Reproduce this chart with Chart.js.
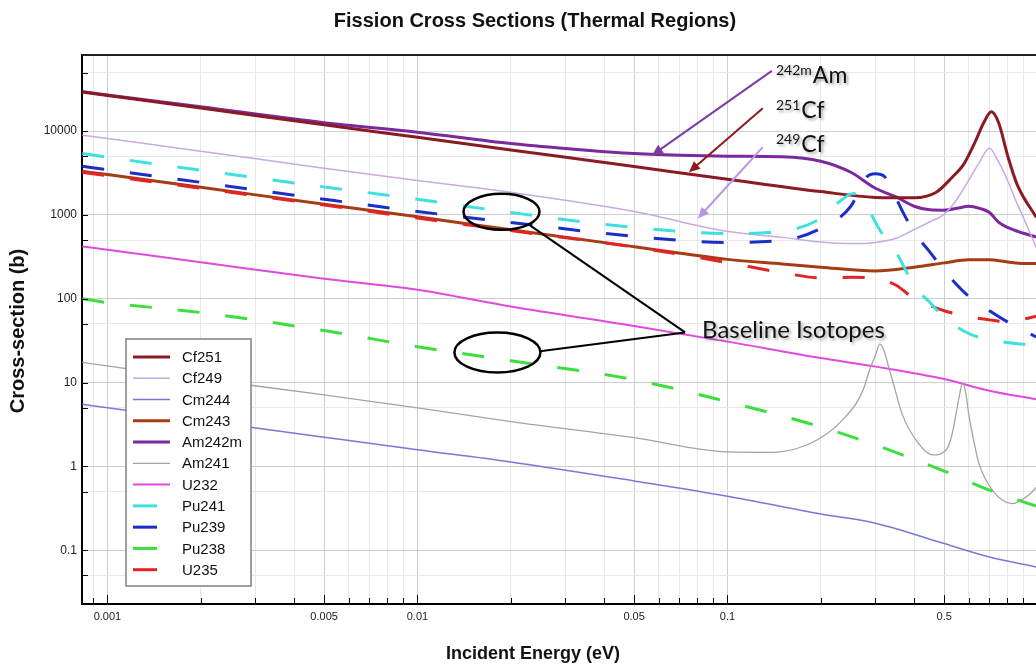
<!DOCTYPE html>
<html>
<head>
<meta charset="utf-8">
<title>Fission Cross Sections (Thermal Regions)</title>
<script src="https://cdn.jsdelivr.net/npm/chart.js@4.4.1/dist/chart.umd.min.js"></script>
<style>
  html, body { margin: 0; padding: 0; background: #fff; }
  #wrap { width: 1036px; height: 667px; }
</style>
</head>
<body>
<div id="wrap"><canvas id="chart" width="1036" height="667"></canvas></div>
<script>
(function(){
  const titleText = 'Fission Cross Sections (Thermal Regions)';
  const xTitle = 'Incident Energy (eV)';
  const yTitle = 'Cross-section (b)';

  const xTickLabels = ['0.001','0.005','0.01','0.05','0.1','0.5'];
  const yTickLabels = ['0.1','1','10','100','1000','10000'];

  // energy (eV) / cross-section (b) pairs
  const cf251E = [0.00083, 0.001, 0.002, 0.005, 0.01, 0.02, 0.05, 0.1, 0.2, 0.3, 0.4, 0.47, 0.53, 0.58, 0.63, 0.67, 0.71, 0.75, 0.8, 0.86, 0.99];
  const cf251  = [29300, 26700, 18900, 11900, 8440, 5970, 3780, 2670, 1900, 1620, 1600, 1850, 2800, 4100, 7500, 12500, 17000, 12500, 5200, 2300, 940];

  const cf249E = [0.00083, 0.001, 0.002, 0.005, 0.01, 0.02, 0.05, 0.1, 0.15, 0.2, 0.25, 0.3, 0.35, 0.4, 0.45, 0.5, 0.55, 0.6, 0.65, 0.7, 0.75, 0.8, 0.85, 0.9, 0.99];
  const cf249  = [8960, 8160, 5770, 3610, 2580, 1860, 1100, 637, 540, 475, 455, 470, 527, 670, 830, 1020, 1540, 2590, 4260, 6260, 4260, 2590, 1500, 935, 412];

  const cm244E = [0.00083, 0.001, 0.002, 0.005, 0.01, 0.02, 0.05, 0.1, 0.2, 0.3, 0.5, 0.7, 0.99];
  const cm244  = [5.5, 5.02, 3.53, 2.23, 1.58, 1.13, 0.67, 0.44, 0.27, 0.21, 0.12, 0.083, 0.063];

  const cm243E = [0.00083, 0.001, 0.002, 0.005, 0.01, 0.02, 0.05, 0.1, 0.15, 0.2, 0.3, 0.4, 0.5, 0.6, 0.7, 0.8, 0.9, 0.99];
  const cm243  = [3320, 3030, 2140, 1340, 950, 665, 418, 295, 260, 238, 215, 238, 268, 292, 292, 275, 263, 263];

  const am242mE = [0.00083, 0.001, 0.002, 0.005, 0.01, 0.02, 0.03, 0.05, 0.1, 0.15, 0.2, 0.25, 0.3, 0.35, 0.4, 0.45, 0.5, 0.55, 0.6, 0.65, 0.7, 0.75, 0.8, 0.9, 0.99];
  const am242m  = [29500, 27000, 19500, 12600, 9700, 7100, 6200, 5400, 5020, 4950, 4380, 3230, 2080, 1640, 1270, 1150, 1140, 1200, 1270, 1200, 1070, 815, 710, 605, 545];

  const am241E = [0.00083, 0.001, 0.002, 0.005, 0.01, 0.02, 0.05, 0.1, 0.14, 0.18, 0.214, 0.24, 0.259, 0.275, 0.288, 0.3, 0.31, 0.32, 0.33, 0.341, 0.366, 0.408, 0.459, 0.508, 0.53, 0.546, 0.562, 0.574, 0.587, 0.6, 0.625, 0.648, 0.718, 0.83, 0.94, 0.99];
  const am241  = [17.4, 15.8, 11.1, 7.15, 5.0, 3.42, 2.2, 1.49, 1.47, 1.8, 2.6, 3.9, 5.5, 8.5, 14.5, 21, 29, 24, 16, 10.5, 4.2, 2.0, 1.37, 1.58, 2.4, 4.2, 7.5, 10, 7.5, 4.2, 1.9, 1.07, 0.51, 0.36, 0.46, 0.56];

  const u232E = [0.00083, 0.001, 0.002, 0.005, 0.01, 0.02, 0.05, 0.1, 0.2, 0.3, 0.5, 0.7, 0.99];
  const u232  = [421, 384, 272, 173, 128, 80.7, 47.4, 30.8, 19.6, 15.5, 11, 8.0, 6.3];

  const pu241E = [0.00083, 0.001, 0.002, 0.005, 0.01, 0.02, 0.05, 0.1, 0.15, 0.2, 0.23, 0.255, 0.275, 0.29, 0.31, 0.35, 0.4, 0.45, 0.5, 0.6, 0.7, 0.99];
  const pu241  = [5410, 4890, 3410, 2160, 1540, 1070, 711, 600, 640, 910, 1450, 1800, 1400, 1040, 660, 360, 144, 90, 60, 38.5, 32.5, 27.5];

  const pu239E = [0.00083, 0.001, 0.002, 0.005, 0.01, 0.02, 0.05, 0.1, 0.15, 0.2, 0.25, 0.28, 0.3, 0.32, 0.34, 0.37, 0.4, 0.45, 0.5, 0.6, 0.7, 0.8, 0.99];
  const pu239  = [3810, 3460, 2450, 1540, 1100, 815, 555, 470, 497, 690, 1270, 2800, 3100, 2900, 1970, 1040, 620, 360, 217, 107, 72, 53, 35];

  const pu238E = [0.00083, 0.001, 0.002, 0.005, 0.01, 0.02, 0.05, 0.1, 0.2, 0.3, 0.5, 0.7, 0.99];
  const pu238  = [100, 90, 68.5, 41.7, 26.8, 18.2, 10.8, 5.9, 2.96, 1.8, 0.88, 0.52, 0.336];

  const u235E = [0.00083, 0.001, 0.002, 0.005, 0.01, 0.02, 0.05, 0.1, 0.15, 0.2, 0.25, 0.3, 0.35, 0.4, 0.45, 0.5, 0.6, 0.7, 0.8, 0.9, 0.99];
  const u235  = [3220, 2940, 2080, 1310, 920, 650, 415, 270, 205, 178, 180, 175, 145, 100, 83, 72, 61, 56, 53, 57, 62];

  // axis ranges
  const xMin = 0.000828, xMax = 0.989;
  const yMin = 0.0228, yMax = 81000;

  // annotation anchors, in data units (eV, b)
  const isoLabels = [
    { sup: '242m', main: 'Am', e: 0.1434, s: 37500 },
    { sup: '251',  main: 'Cf', e: 0.1434, s: 14300 },
    { sup: '249',  main: 'Cf', e: 0.1434, s: 5610 }
  ];
  const isoArrows = [
    { from: [0.139, 52300], to: [0.0571, 5160], color: '#7d3ca3' },
    { from: [0.130, 18800], to: [0.0751, 3240], color: '#8b1a1a' },
    { from: [0.130, 6440],  to: [0.0803, 910],  color: '#b896e6' }
  ];
  const baseRings = [ { e: 0.01867, s: 1089 }, { e: 0.01811, s: 22.9 } ];
  const baseLines = [ [[0.02307, 751], [0.0730, 39.7]], [[0.02485, 23.6], [0.0730, 39.7]] ];
  const baseLabel = { text: 'Baseline Isotopes', e: 0.0828, s: 34.4 };

  const FONT = '"Liberation Sans", Arial, sans-serif';
  const DASH = [22, 26];

  const series = [
    { label: 'Cf251',  e: cf251E,  v: cf251,  color: '#8b1a24', width: 3 },
    { label: 'Cf249',  e: cf249E,  v: cf249,  color: '#c9a9e2', width: 1.5 },
    { label: 'Cm244',  e: cm244E,  v: cm244,  color: '#7878d8', width: 1.5 },
    { label: 'Cm243',  e: cm243E,  v: cm243,  color: '#a63c14', width: 3 },
    { label: 'Am242m', e: am242mE, v: am242m, color: '#7a2a9c', width: 3 },
    { label: 'Am241',  e: am241E,  v: am241,  color: '#a4a4a4', width: 1.3 },
    { label: 'U232',   e: u232E,   v: u232,   color: '#e04ae0', width: 2 },
    { label: 'Pu241',  e: pu241E,  v: pu241,  color: '#3ee0e0', width: 3, dash: true },
    { label: 'Pu239',  e: pu239E,  v: pu239,  color: '#1a2ec8', width: 3, dash: true },
    { label: 'Pu238',  e: pu238E,  v: pu238,  color: '#3ede3e', width: 3, dash: true },
    { label: 'U235',   e: u235E,   v: u235,   color: '#e42424', width: 3, dash: true }
  ];

  const datasets = series.map(s => ({
    label: s.label,
    data: s.e.map((e, i) => ({ x: e, y: s.v[i] })),
    borderColor: s.color,
    borderWidth: s.width,
    borderDash: s.dash ? DASH : [],
    order: s.dash ? -1 : 0,
    fill: false,
    pointRadius: 0,
    cubicInterpolationMode: 'monotone'
  }));

  function logTicks(min, max, mants){
    const out = [];
    for (let p = Math.floor(Math.log10(min)); p <= Math.ceil(Math.log10(max)); p++){
      for (const m of mants){
        const v = Number((m * Math.pow(10, p)).toPrecision(3));
        if (v >= min && v <= max) out.push(v);
      }
    }
    return out;
  }
  function mant(v){ return Math.round(v / Math.pow(10, Math.floor(Math.log10(v) + 1e-9))); }

  const decor = {
    id: 'decor',
    afterDatasetsDraw(chart){
      const { ctx, chartArea: a, scales: { x, y } } = chart;
      ctx.save();
      // frame top + inner tick marks
      ctx.strokeStyle = '#222'; ctx.lineWidth = 2;
      ctx.beginPath(); ctx.moveTo(a.left, a.top); ctx.lineTo(a.right, a.top); ctx.stroke();
      ctx.strokeStyle = '#000'; ctx.lineWidth = 1;
      x.ticks.forEach(t => {
        const px = Math.round(x.getPixelForValue(t.value)) + 0.5;
        const len = xTickLabels.includes(String(t.value)) ? 9 : 6;
        ctx.beginPath(); ctx.moveTo(px, a.bottom); ctx.lineTo(px, a.bottom - len); ctx.stroke();
      });
      y.ticks.forEach(t => {
        const py = Math.round(y.getPixelForValue(t.value)) + 0.5;
        ctx.beginPath(); ctx.moveTo(a.left, py); ctx.lineTo(a.left + 6, py); ctx.stroke();
      });

      // legend box
      const lx = 126, ly = 339, lw = 125, lh = 247;
      ctx.fillStyle = '#fff'; ctx.fillRect(lx, ly, lw, lh);
      ctx.strokeStyle = '#808080'; ctx.lineWidth = 1.5; ctx.strokeRect(lx, ly, lw, lh);
      ctx.font = '15px ' + FONT; ctx.textBaseline = 'middle'; ctx.textAlign = 'left';
      chart.data.datasets.forEach((d, i) => {
        const yy = 357 + i * 21.27;
        const dashed = d.borderDash && d.borderDash.length;
        ctx.strokeStyle = d.borderColor; ctx.lineWidth = Math.min(d.borderWidth, 3);
        ctx.setLineDash([]);
        ctx.beginPath(); ctx.moveTo(133, yy); ctx.lineTo(dashed ? 157 : 170, yy); ctx.stroke();
        ctx.fillStyle = '#111'; ctx.fillText(d.label, 182, yy + 1);
      });

      // annotations: isotope arrows and labels
      const P = (e, s) => [x.getPixelForValue(e), y.getPixelForValue(s)];
      isoArrows.forEach(ar => {
        const [x1, y1] = P(ar.from[0], ar.from[1]);
        const [x2, y2] = P(ar.to[0], ar.to[1]);
        const ang = Math.atan2(y2 - y1, x2 - x1);
        ctx.strokeStyle = ar.color; ctx.fillStyle = ar.color; ctx.lineWidth = 2;
        ctx.beginPath(); ctx.moveTo(x1, y1); ctx.lineTo(x2 - 8 * Math.cos(ang), y2 - 8 * Math.sin(ang)); ctx.stroke();
        ctx.beginPath();
        ctx.moveTo(x2, y2);
        ctx.lineTo(x2 - 11 * Math.cos(ang) + 5 * Math.sin(ang), y2 - 11 * Math.sin(ang) - 5 * Math.cos(ang));
        ctx.lineTo(x2 - 11 * Math.cos(ang) - 5 * Math.sin(ang), y2 - 11 * Math.sin(ang) + 5 * Math.cos(ang));
        ctx.closePath(); ctx.fill();
      });
      ctx.shadowColor = 'rgba(0,0,0,0.35)'; ctx.shadowBlur = 3; ctx.shadowOffsetX = 2; ctx.shadowOffsetY = 2;
      ctx.fillStyle = '#111'; ctx.textBaseline = 'alphabetic';
      isoLabels.forEach(l => {
        const [px, py] = P(l.e, l.s);
        ctx.font = '14px Lato, ' + FONT;
        ctx.fillText(l.sup, px, py - 8);
        const w = ctx.measureText(l.sup).width;
        ctx.font = '23px Lato, ' + FONT;
        ctx.fillText(l.main, px + w + 1, py);
      });
      ctx.font = '24px Lato, ' + FONT;
      const [bx, by] = P(baseLabel.e, baseLabel.s);
      ctx.fillText(baseLabel.text, bx, by);
      ctx.shadowColor = 'transparent'; ctx.shadowBlur = 0; ctx.shadowOffsetX = 0; ctx.shadowOffsetY = 0;

      // baseline isotope rings and leader lines
      ctx.strokeStyle = '#000'; ctx.lineWidth = 2.5;
      baseRings.forEach((r, i) => {
        const [cx, cy] = P(r.e, r.s);
        ctx.beginPath(); ctx.ellipse(cx, cy, i ? 43 : 38, i ? 20 : 18, 0, 0, Math.PI * 2); ctx.stroke();
      });
      ctx.lineWidth = 2;
      baseLines.forEach(l => {
        const [x1, y1] = P(l[0][0], l[0][1]);
        const [x2, y2] = P(l[1][0], l[1][1]);
        ctx.beginPath(); ctx.moveTo(x1, y1); ctx.lineTo(x2, y2); ctx.stroke();
      });
      ctx.restore();
    },
    afterDraw(chart){
      const { ctx } = chart;
      ctx.save();
      ctx.fillStyle = '#111'; ctx.textAlign = 'center'; ctx.textBaseline = 'middle';
      ctx.font = 'bold 20px ' + FONT;
      ctx.fillText(titleText, 535, 21);
      ctx.font = 'bold 18px ' + FONT;
      ctx.fillText(xTitle, 533, 654);
      ctx.font = 'bold 20px ' + FONT;
      ctx.translate(18, 331); ctx.rotate(-Math.PI / 2);
      ctx.fillText(yTitle, 0, 0);
      ctx.restore();
    }
  };

  new Chart(document.getElementById('chart').getContext('2d'), {
    type: 'line',
    data: { datasets },
    options: {
      responsive: false,
      animation: false,
      layout: { padding: { left: 0, right: 0, top: 55, bottom: 0 } },
      plugins: { legend: { display: false }, tooltip: { enabled: false }, title: { display: false } },
      elements: { point: { radius: 0 }, line: { borderCapStyle: 'butt' } },
      scales: {
        x: {
          type: 'logarithmic', min: xMin, max: xMax,
          afterBuildTicks: s => { s.ticks = logTicks(xMin, xMax, [1,2,3,4,5,6,7,8,9]).map(v => ({ value: v })); },
          afterFit: s => { s.height = 63; s.paddingLeft = 0; s.paddingRight = 0; },
          ticks: {
            autoSkip: false, maxRotation: 0, minRotation: 0, padding: 6,
            font: { family: FONT, size: 11 }, color: '#222',
            callback: v => xTickLabels.includes(String(v)) ? String(v) : ''
          },
          grid: {
            drawTicks: false, lineWidth: 1,
            color: c => (c.tick && [1,5].includes(mant(c.tick.value))) ? '#cfcfcf' : '#e9e9e9'
          },
          border: { display: true, color: '#000', width: 2 }
        },
        y: {
          type: 'logarithmic', min: yMin, max: yMax,
          afterBuildTicks: s => { s.ticks = logTicks(yMin, yMax, [1,5]).map(v => ({ value: v })); },
          afterFit: s => { s.width = 82; s.paddingTop = 0; s.paddingBottom = 0; },
          ticks: {
            autoSkip: false, padding: 5,
            font: { family: FONT, size: 12 }, color: '#222',
            callback: v => yTickLabels.includes(String(v)) ? String(v) : ''
          },
          grid: {
            drawTicks: false, lineWidth: 1,
            color: c => (c.tick && mant(c.tick.value) === 1) ? '#cfcfcf' : '#e9e9e9'
          },
          border: { display: true, color: '#000', width: 2 }
        }
      }
    },
    plugins: [decor]
  });
})();
</script>
</body>
</html>
